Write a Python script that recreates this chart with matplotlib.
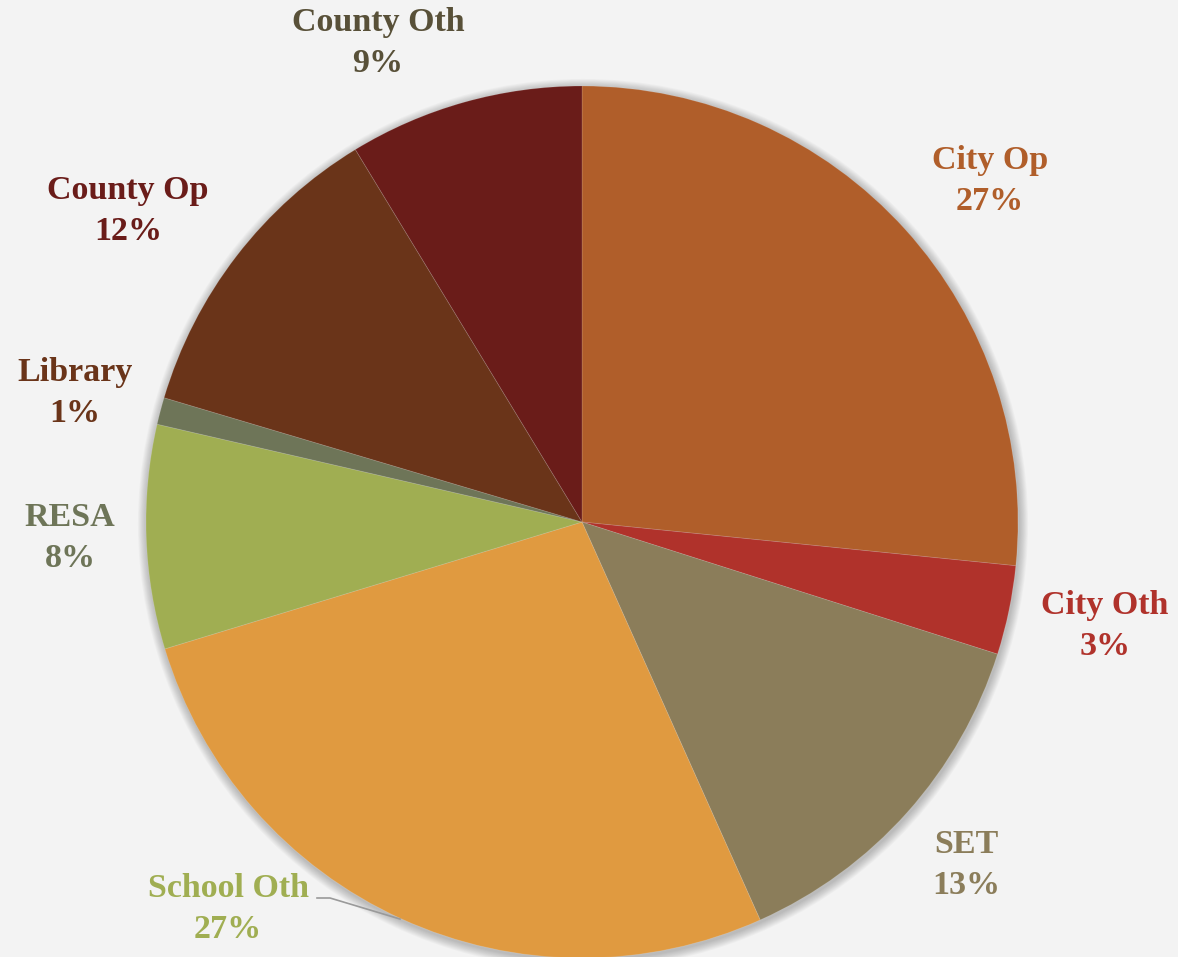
import matplotlib
matplotlib.use("Agg")
import matplotlib.pyplot as plt
from matplotlib.patches import Circle

labels = ["City Op", "City Oth", "SET", "School Oth", "RESA", "Library", "County Op", "County Oth"]
values = [26.6, 3.3, 13.4, 27.0, 8.3, 1.0, 11.7, 8.7]
pct_labels = ["27%", "3%", "13%", "27%", "8%", "1%", "12%", "9%"]
slice_colors = ["#B05E2A", "#B0322B", "#8B7D5A", "#E09A40", "#A0AE52", "#6E7558", "#6A3419", "#6A1C19"]
label_colors = ["#B05E2A", "#B0322B", "#8B7D5A", "#A0AE52", "#6E7558", "#6A3419", "#6A1C19", "#585038"]
# label centres in pixel coordinates (x, y from top)
label_pos = [(990, 181), (1105, 626), (966, 865), (228, 909), (70, 538), (75, 393), (128, 211), (378, 43)]

W, H = 1178, 957
fig = plt.figure(figsize=(W / 100, H / 100), dpi=100)
fig.patch.set_facecolor("#F3F3F3")
ax = fig.add_axes([0, 0, 1, 1])
ax.set_facecolor("#F3F3F3")

cx, cy, r = 582, H - 522, 436

# soft shadow
for i in range(10):
    ax.add_patch(Circle((cx + 1, cy - 2), r + 1 + i * 0.9, facecolor="#000000",
                        alpha=0.025, edgecolor="none", zorder=1))

wedges, _ = ax.pie(values, colors=slice_colors, startangle=90, counterclock=False,
                   center=(cx, cy), radius=r, frame=True,
                   wedgeprops=dict(edgecolor=(1, 1, 1, 0.15), linewidth=0.6, zorder=2))
for w in wedges:
    w.set_zorder(2)

for lab, pct, col, (x, y) in zip(labels, pct_labels, label_colors, label_pos):
    ax.text(x, H - y, f"{lab}\n{pct}", ha="center", va="center", color=col,
            fontsize=24.5, fontweight="bold", family="Liberation Serif",
            linespacing=1.45, zorder=5)

# leader line for School Oth
ax.plot([317, 330, 400], [H - 898, H - 898, H - 919], color="#9A9A9A", lw=1.2, zorder=4)

ax.set_xlim(0, W)
ax.set_ylim(0, H)
ax.set_aspect("equal")
ax.axis("off")
fig.savefig("out.png", dpi=100, facecolor=fig.get_facecolor())
